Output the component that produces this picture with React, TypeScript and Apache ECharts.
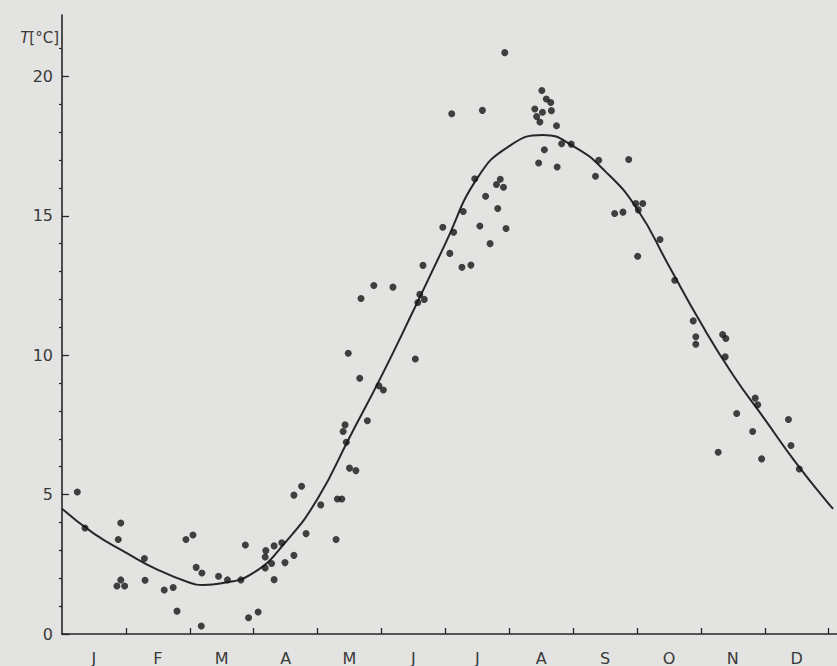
import React, { useEffect, useRef } from "react";
import * as echarts from "echarts";

const monthLabels = ["J", "F", "M", "A", "M", "J", "J", "A", "S", "O", "N", "D"];
const monthBoundaries = [1, 2, 3, 4, 5, 6, 7, 8, 9, 10, 11, 12];
const monthCentres = [0.5, 1.5, 2.5, 3.5, 4.5, 5.5, 6.5, 7.5, 8.5, 9.5, 10.5, 11.5];
const yTickValues = [0, 5, 10, 15, 20];
const yMinorValues = [1, 2, 3, 4, 6, 7, 8, 9, 11, 12, 13, 14, 16, 17, 18, 19, 21];

// fitted annual curve (month, T)
const curveMonth = [0, 0.5, 1, 1.5, 2, 2.21, 2.5, 3, 3.5, 4, 4.5, 5, 5.5, 6, 6.5, 7, 7.53, 8, 8.5, 9, 9.5, 10, 10.5, 11, 11.5, 12, 12.07];
const curveTemp = [4.49, 3.6, 2.92, 2.3, 1.84, 1.76, 1.82, 2.2, 3.3, 4.85, 7.05, 9.25, 11.6, 14.0, 16.35, 17.5, 17.9, 17.5, 16.6, 15.25, 13.2, 11.15, 9.3, 7.7, 6.1, 4.67, 4.49];

// observations (month, T)
const obsMonth = [
  0.24, 0.36, 0.92, 0.88, 0.92, 0.86, 0.98, 1.29, 1.3, 1.6, 1.74, 1.8, 1.94, 2.05, 2.1, 2.19, 2.18, 2.45, 2.59, 2.8,
  2.87, 2.92, 3.07, 3.18, 3.19, 3.18, 3.28, 3.32, 3.32, 3.44, 3.49, 3.63, 3.63,
  4.5, 4.6, 3.75, 4.05, 4.31, 4.38, 3.82, 4.29,
  4.43, 4.4, 4.45, 4.78, 4.48, 4.66, 4.96, 5.03, 5.53, 4.68, 4.88, 5.18, 5.6, 5.67, 5.57, 5.65, 5.96, 6.13, 6.07, 6.28,
  6.26, 6.4, 6.54, 6.7, 6.82, 6.95,
  6.93, 6.1, 6.58, 7.51, 7.58, 7.65, 7.4, 7.52, 7.66, 7.43, 7.48, 7.74, 7.82, 7.97, 7.55, 7.46, 7.75, 8.4, 8.87, 8.35,
  6.46, 6.86, 6.8, 6.91, 6.63, 8.98, 9.09, 9.02, 8.65, 8.78,
  9.36, 9.01, 9.59, 9.88, 9.92, 9.92, 10.34, 10.39, 10.38, 10.85, 10.89, 10.56, 10.81, 11.37, 11.41,
  10.27, 10.95, 11.54,
];
const obsTemp = [
  5.09, 3.8, 3.98, 3.39, 1.94, 1.72, 1.72, 2.71, 1.93, 1.58, 1.67, 0.82, 3.39, 3.55, 2.39, 2.19, 0.29, 2.07, 1.94, 1.94,
  3.19, 0.58, 0.79, 2.76, 2.99, 2.37, 2.53, 3.16, 1.95, 3.27, 2.56, 2.82, 4.98,
  5.95, 5.86, 5.3, 4.63, 4.84, 4.84, 3.6, 3.39,
  7.5, 7.26, 6.88, 7.65, 10.07, 9.17, 8.9, 8.75, 9.86, 12.03, 12.5, 12.44, 12.18, 12.0, 11.89, 13.22, 14.59, 14.41, 13.65, 15.15,
  13.15, 13.23, 14.63, 14.0, 15.26, 14.54,
  20.85, 18.66, 18.78, 19.49, 19.19, 19.06, 18.83, 18.71, 18.77, 18.56, 18.36, 18.23, 17.58, 17.57, 17.37, 16.89, 16.75, 16.99, 17.02, 16.42,
  16.33, 16.31, 16.12, 16.02, 15.7, 15.44, 15.44, 15.21, 15.08, 15.13,
  14.15, 13.55, 12.69, 11.23, 10.66, 10.39, 10.74, 10.6, 9.94, 8.46, 8.22, 7.91, 7.26, 7.69, 6.76,
  6.52, 6.28, 5.92,
];

const INK = "#262626";
const TEXT = "#3a3a3a";
const FONT = "DejaVu Sans";

export default function App() {
  const ref = useRef<HTMLDivElement>(null);
  useEffect(() => {
    const chart = echarts.init(ref.current as HTMLDivElement, null, { renderer: "svg" });
    const curve = curveMonth.map((m, i) => [m, curveTemp[i]]);
    const obs = obsMonth.map((m, i) => [m, obsTemp[i]]);
    chart.setOption({
      animation: false,
      backgroundColor: "#e3e3e1",
      grid: { left: 62, right: 0, top: 15, bottom: 30.5, containLabel: false },
      xAxis: {
        type: "value",
        min: 0,
        max: 12.13,
        axisLine: { show: true, onZero: false, lineStyle: { color: INK, width: 1.6 } },
        axisTick: { show: true, inside: true, length: 6, customValues: monthBoundaries, lineStyle: { color: INK, width: 1.3 } },
        axisLabel: {
          customValues: monthCentres,
          formatter: (v: number) => monthLabels[Math.floor(v)] || "",
          margin: 16,
          fontSize: 16,
          color: TEXT,
          fontFamily: FONT,
        },
        splitLine: { show: false },
      },
      yAxis: [
        {
          type: "value",
          min: 0,
          max: 22.2,
          axisLine: { show: true, onZero: false, lineStyle: { color: INK, width: 1.6 } },
          axisTick: { show: true, inside: true, length: 7, customValues: yTickValues, lineStyle: { color: INK, width: 1.3 } },
          axisLabel: { customValues: yTickValues, margin: 9, fontSize: 16, color: TEXT, fontFamily: FONT },
          splitLine: { show: false },
        },
        {
          type: "value",
          min: 0,
          max: 22.2,
          position: "left",
          axisLine: { show: false },
          axisTick: { show: true, inside: false, length: 3, customValues: yMinorValues, lineStyle: { color: INK, width: 1.2 } },
          axisLabel: { show: false },
          splitLine: { show: false },
        },
      ],
      graphic: [
        {
          type: "text",
          x: 59,
          y: 38,
          style: {
            text: "{i|T}[°C]",
            rich: { i: { fontStyle: "italic", fontSize: 15, fontFamily: FONT, fill: TEXT } },
            fontSize: 15,
            fontFamily: FONT,
            fill: TEXT,
            align: "right",
            verticalAlign: "middle",
          },
        },
      ],
      series: [
        {
          type: "line",
          data: curve,
          smooth: true,
          showSymbol: false,
          lineStyle: { color: INK, width: 2 },
          z: 2,
        },
        {
          type: "scatter",
          data: obs,
          symbol: "circle",
          symbolSize: 7,
          itemStyle: { color: "#151515" },
          z: 3,
        },
      ],
    });
    return () => chart.dispose();
  }, []);
  return <div ref={ref} style={{ position: "fixed", left: 0, top: 0, width: 837, height: 666 }} />;
}
